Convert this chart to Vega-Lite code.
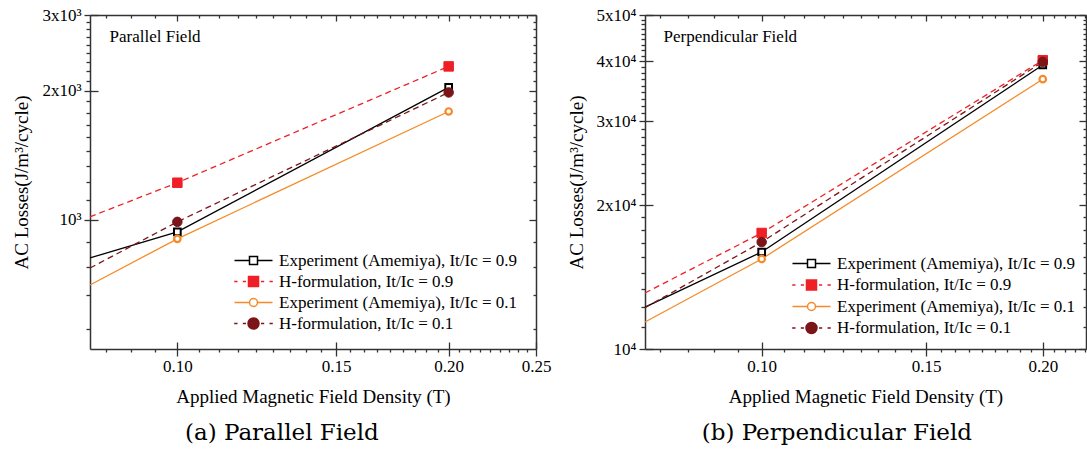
{
  "$schema": "https://vega.github.io/schema/vega-lite/v6.json",
  "background": "white",
  "padding": {"left": 12, "top": 6, "right": 0, "bottom": 0},
  "spacing": 16,
  "resolve": {"scale": {"shape": "independent", "fill": "independent", "stroke": "independent"}, "legend": {"shape": "independent", "fill": "independent", "stroke": "independent"}},
  "config": {
    "view": {"stroke": null},
    "axis": {"grid": false, "labelFont": "Times New Roman", "labelFontSize": 17, "labelColor": "#000", "titleFont": "Times New Roman", "titleFontSize": 19, "titleFontWeight": "normal", "titleColor": "#000", "tickColor": "#333", "domainColor": "#333", "tickWidth": 1.3, "domainWidth": 1.5, "labelOverlap": false, "labelFlush": false}
  },
  "datasets": {
    "pa": [
      {"series": "Experiment (Amemiya), It/Ic = 0.9", "B": 0.08, "loss": 815, "marker": false},
      {"series": "Experiment (Amemiya), It/Ic = 0.9", "B": 0.1, "loss": 937, "marker": true},
      {"series": "Experiment (Amemiya), It/Ic = 0.9", "B": 0.2, "loss": 2034, "marker": true},
      {"series": "H-formulation, It/Ic = 0.9", "B": 0.08, "loss": 1016, "marker": false},
      {"series": "H-formulation, It/Ic = 0.9", "B": 0.1, "loss": 1220, "marker": true},
      {"series": "H-formulation, It/Ic = 0.9", "B": 0.2, "loss": 2277, "marker": true},
      {"series": "Experiment (Amemiya), It/Ic = 0.1", "B": 0.08, "loss": 705, "marker": false},
      {"series": "Experiment (Amemiya), It/Ic = 0.1", "B": 0.1, "loss": 903, "marker": true},
      {"series": "Experiment (Amemiya), It/Ic = 0.1", "B": 0.2, "loss": 1788, "marker": true},
      {"series": "H-formulation, It/Ic = 0.1", "B": 0.08, "loss": 772, "marker": false},
      {"series": "H-formulation, It/Ic = 0.1", "B": 0.1, "loss": 989, "marker": true},
      {"series": "H-formulation, It/Ic = 0.1", "B": 0.2, "loss": 1980, "marker": true}
    ],
    "pb": [
      {"series": "Experiment (Amemiya), It/Ic = 0.9", "B": 0.075, "loss": 12240, "marker": false},
      {"series": "Experiment (Amemiya), It/Ic = 0.9", "B": 0.1, "loss": 15960, "marker": true},
      {"series": "Experiment (Amemiya), It/Ic = 0.9", "B": 0.2, "loss": 39300, "marker": true},
      {"series": "H-formulation, It/Ic = 0.9", "B": 0.075, "loss": 13100, "marker": false},
      {"series": "H-formulation, It/Ic = 0.9", "B": 0.1, "loss": 17490, "marker": true},
      {"series": "H-formulation, It/Ic = 0.9", "B": 0.2, "loss": 40200, "marker": true},
      {"series": "Experiment (Amemiya), It/Ic = 0.1", "B": 0.075, "loss": 11390, "marker": false},
      {"series": "Experiment (Amemiya), It/Ic = 0.1", "B": 0.1, "loss": 15430, "marker": true},
      {"series": "Experiment (Amemiya), It/Ic = 0.1", "B": 0.2, "loss": 36700, "marker": true},
      {"series": "H-formulation, It/Ic = 0.1", "B": 0.075, "loss": 12200, "marker": false},
      {"series": "H-formulation, It/Ic = 0.1", "B": 0.1, "loss": 16740, "marker": true},
      {"series": "H-formulation, It/Ic = 0.1", "B": 0.2, "loss": 39900, "marker": true}
    ]
  },
  "hconcat": [
    {
      "width": 446, "height": 334,
      "data": {"name": "pa"},
      "title": {"text": "(a) Parallel Field", "orient": "bottom", "anchor": "middle", "frame": "bounds", "font": "DejaVu Serif", "fontSize": 23, "fontWeight": "normal", "color": "#000", "offset": 16},
      "resolve": {"axis": {"x": "independent", "y": "independent"}},
      "encoding": {
        "x": {"field": "B", "type": "quantitative", "scale": {"type": "log", "domain": [0.08, 0.25], "nice": false}, "axis": null},
        "y": {"field": "loss", "type": "quantitative", "scale": {"type": "log", "domain": [500, 3000], "nice": false}, "axis": null}
      },
      "layer": [
        {
          "transform": [{"filter": "datum.series == 'Experiment (Amemiya), It/Ic = 0.9'"}],
          "mark": {"type": "line", "color": "#000000", "strokeWidth": 1.3},
          "encoding": {
            "x": {"field": "B", "type": "quantitative", "scale": {"type": "log", "domain": [0.08, 0.25], "nice": false}, "axis": {"orient": "bottom", "values": [0.1, 0.15, 0.2, 0.25], "format": ".2f", "tickSize": 7, "labelPadding": 2, "title": "Applied Magnetic Field Density (T)", "titlePadding": 13, "domain": true}},
            "y": {"field": "loss", "type": "quantitative", "scale": {"type": "log", "domain": [500, 3000], "nice": false}, "axis": {"orient": "left", "values": [1000, 2000, 3000], "labelExpr": "datum.value == 1000 ? '10³' : datum.value == 2000 ? '2x10³' : '3x10³'", "tickSize": 6, "labelPadding": 3, "title": "AC Losses(J/m³/cycle)", "titlePadding": 10, "domain": true}}
          }
        },
        {
          "transform": [{"filter": "datum.series == 'H-formulation, It/Ic = 0.9'"}],
          "mark": {"type": "line", "color": "#ee2026", "strokeWidth": 1.3, "strokeDash": [6, 4]}
        },
        {
          "transform": [{"filter": "datum.series == 'Experiment (Amemiya), It/Ic = 0.1'"}],
          "mark": {"type": "line", "color": "#f58b28", "strokeWidth": 1.3}
        },
        {
          "transform": [{"filter": "datum.series == 'H-formulation, It/Ic = 0.1'"}],
          "mark": {"type": "line", "color": "#7b1518", "strokeWidth": 1.3, "strokeDash": [6, 4]}
        },
        {
          "transform": [{"filter": "datum.marker && datum.series == 'Experiment (Amemiya), It/Ic = 0.9'"}],
          "mark": {"type": "point", "shape": "square", "fill": "#ffffff", "stroke": "#000000", "strokeWidth": 2, "size": 45, "opacity": 1},
          "encoding": {
            "x": {"field": "B", "type": "quantitative", "scale": {"type": "log", "domain": [0.08, 0.25], "nice": false}, "axis": {"orient": "bottom", "values": [0.1, 0.15, 0.2, 0.25], "tickSize": -7, "labels": false, "domain": false, "title": null}},
            "y": {"field": "loss", "type": "quantitative", "scale": {"type": "log", "domain": [500, 3000], "nice": false}, "axis": {"orient": "left", "values": [1000, 2000, 3000], "tickSize": -8, "labels": false, "domain": false, "title": null}}
          }
        },
        {
          "transform": [{"filter": "datum.marker && datum.series == 'H-formulation, It/Ic = 0.9'"}],
          "mark": {"type": "point", "shape": "square", "fill": "#ee2026", "stroke": "#ee2026", "strokeWidth": 1, "size": 90, "opacity": 1}
        },
        {
          "transform": [{"filter": "datum.marker && datum.series == 'Experiment (Amemiya), It/Ic = 0.1'"}],
          "mark": {"type": "point", "shape": "circle", "fill": "#ffffff", "stroke": "#f58b28", "strokeWidth": 2.2, "size": 42, "opacity": 1},
          "encoding": {
            "x": {"field": "B", "type": "quantitative", "scale": {"type": "log", "domain": [0.08, 0.25], "nice": false}, "axis": {"orient": "bottom", "values": [0.08333, 0.08889, 0.09444, 0.10556, 0.11111, 0.11667, 0.12222, 0.12778, 0.13333, 0.13889, 0.14444, 0.15556, 0.16111, 0.16667, 0.17222, 0.17778, 0.18333, 0.18889, 0.19444, 0.20556, 0.21111, 0.21667, 0.22222, 0.22778, 0.23333, 0.23889, 0.24444], "tickSize": 3, "labels": false, "domain": false, "title": null}},
            "y": {"field": "loss", "type": "quantitative", "scale": {"type": "log", "domain": [500, 3000], "nice": false}, "axis": {"orient": "left", "values": [555.6, 666.7, 777.8, 888.9, 1111.1, 1222.2, 1333.3, 1444.4, 1555.6, 1666.7, 1777.8, 1888.9, 2111.1, 2222.2, 2333.3, 2444.4, 2555.6, 2666.7, 2777.8, 2888.9], "tickSize": 4, "labels": false, "domain": false, "title": null}}
          }
        },
        {
          "transform": [{"filter": "datum.marker && datum.series == 'H-formulation, It/Ic = 0.1'"}],
          "mark": {"type": "point", "shape": "circle", "fill": "#7b1518", "stroke": "#7b1518", "strokeWidth": 1, "size": 90, "opacity": 1},
          "encoding": {
            "x": {"field": "B", "type": "quantitative", "scale": {"type": "log", "domain": [0.08, 0.25], "nice": false}, "axis": {"orient": "top", "values": [0.1, 0.15, 0.2, 0.25], "tickSize": -6, "labels": false, "domain": true, "title": "Parallel Field", "titleFont": "Times New Roman", "titleFontSize": 17, "titleFontWeight": "normal", "titleColor": "#000", "titleAlign": "left", "titleBaseline": "middle", "titleAngle": 0, "titleX": 19, "titleY": 21}},
            "y": {"field": "loss", "type": "quantitative", "scale": {"type": "log", "domain": [500, 3000], "nice": false}, "axis": {"orient": "right", "values": [1000, 2000, 3000], "tickSize": -7, "labels": false, "domain": true, "title": null}}
          }
        },
        {
          "transform": [{"filter": "datum.B < 0"}],
          "mark": {"type": "point", "strokeWidth": 1.6, "size": 100},
          "encoding": {
            "x": {"field": "B", "type": "quantitative", "scale": {"type": "log", "domain": [0.08, 0.25], "nice": false}, "axis": {"orient": "top", "values": [0.08333, 0.08889, 0.09444, 0.10556, 0.11111, 0.11667, 0.12222, 0.12778, 0.13333, 0.13889, 0.14444, 0.15556, 0.16111, 0.16667, 0.17222, 0.17778, 0.18333, 0.18889, 0.19444, 0.20556, 0.21111, 0.21667, 0.22222, 0.22778, 0.23333, 0.23889, 0.24444], "tickSize": -3, "labels": false, "domain": false, "title": null}},
            "y": {"field": "loss", "type": "quantitative", "scale": {"type": "log", "domain": [500, 3000], "nice": false}, "axis": {"orient": "right", "values": [555.6, 666.7, 777.8, 888.9, 1111.1, 1222.2, 1333.3, 1444.4, 1555.6, 1666.7, 1777.8, 1888.9, 2111.1, 2222.2, 2333.3, 2444.4, 2555.6, 2666.7, 2777.8, 2888.9], "tickSize": -3, "labels": false, "domain": false, "title": null}},
            "shape": {"field": "series", "type": "nominal", "sort": null,
              "scale": {"domain": ["Experiment (Amemiya), It/Ic = 0.9", "H-formulation, It/Ic = 0.9", "Experiment (Amemiya), It/Ic = 0.1", "H-formulation, It/Ic = 0.1"],
                "range": ["M-3.8,0H-0.85M0.85,0H3.8M-0.8,-0.8H0.8V0.8H-0.8Z", "M-3.86,0H-3.2M-2.14,0H-1.5M1.5,0H2.14M3.2,0H3.86M-1,-1H1V1H-1Z", "M-3.8,0H-0.85M0.85,0H3.8M-0.8,0A0.8,0.8 0 1,0 0.8,0A0.8,0.8 0 1,0 -0.8,0Z", "M-3.86,0H-3.2M-2.14,0H-1.5M1.5,0H2.14M3.2,0H3.86M-1.1,0A1.1,1.1 0 1,0 1.1,0A1.1,1.1 0 1,0 -1.1,0Z"]},
              "legend": {"orient": "none", "legendX": 155, "legendY": 237, "title": null, "symbolSize": 100, "symbolOpacity": 1, "labelOffset": 17, "labelFontSize": 17, "labelFont": "Times New Roman", "labelColor": "#000", "labelLimit": 400, "rowPadding": 3, "padding": 0}},
            "fill": {"field": "series", "type": "nominal", "sort": null,
              "scale": {"domain": ["Experiment (Amemiya), It/Ic = 0.9", "H-formulation, It/Ic = 0.9", "Experiment (Amemiya), It/Ic = 0.1", "H-formulation, It/Ic = 0.1"], "range": ["#ffffff", "#ee2026", "#ffffff", "#7b1518"]}},
            "stroke": {"field": "series", "type": "nominal", "sort": null,
              "scale": {"domain": ["Experiment (Amemiya), It/Ic = 0.9", "H-formulation, It/Ic = 0.9", "Experiment (Amemiya), It/Ic = 0.1", "H-formulation, It/Ic = 0.1"], "range": ["#000000", "#ee2026", "#f58b28", "#7b1518"]}}
          }
        }
      ]
    },
    {
      "width": 441, "height": 334,
      "data": {"name": "pb"},
      "title": {"text": "(b) Perpendicular Field", "orient": "bottom", "anchor": "middle", "frame": "bounds", "font": "DejaVu Serif", "fontSize": 23, "fontWeight": "normal", "color": "#000", "offset": 16, "dx": 10},
      "resolve": {"axis": {"x": "independent", "y": "independent"}},
      "encoding": {
        "x": {"field": "B", "type": "quantitative", "scale": {"type": "log", "domain": [0.075, 0.2225], "nice": false}, "axis": null},
        "y": {"field": "loss", "type": "quantitative", "scale": {"type": "log", "domain": [10000, 50000], "nice": false}, "axis": null}
      },
      "layer": [
        {
          "transform": [{"filter": "datum.series == 'Experiment (Amemiya), It/Ic = 0.9'"}],
          "mark": {"type": "line", "color": "#000000", "strokeWidth": 1.3},
          "encoding": {
            "x": {"field": "B", "type": "quantitative", "scale": {"type": "log", "domain": [0.075, 0.2225], "nice": false}, "axis": {"orient": "bottom", "values": [0.1, 0.15, 0.2], "format": ".2f", "tickSize": 7, "labelPadding": 2, "title": "Applied Magnetic Field Density (T)", "titlePadding": 13, "domain": true}},
            "y": {"field": "loss", "type": "quantitative", "scale": {"type": "log", "domain": [10000, 50000], "nice": false}, "axis": {"orient": "left", "values": [10000, 20000, 30000, 40000, 50000], "labelExpr": "datum.value == 10000 ? '10⁴' : format(datum.value / 10000, 'd') + 'x10⁴'", "tickSize": 6, "labelPadding": 3, "title": "AC Losses(J/m³/cycle)", "titlePadding": 10, "domain": true}}
          }
        },
        {
          "transform": [{"filter": "datum.series == 'H-formulation, It/Ic = 0.9'"}],
          "mark": {"type": "line", "color": "#ee2026", "strokeWidth": 1.3, "strokeDash": [6, 4]}
        },
        {
          "transform": [{"filter": "datum.series == 'Experiment (Amemiya), It/Ic = 0.1'"}],
          "mark": {"type": "line", "color": "#f58b28", "strokeWidth": 1.3}
        },
        {
          "transform": [{"filter": "datum.series == 'H-formulation, It/Ic = 0.1'"}],
          "mark": {"type": "line", "color": "#7b1518", "strokeWidth": 1.3, "strokeDash": [6, 4]}
        },
        {
          "transform": [{"filter": "datum.marker && datum.series == 'Experiment (Amemiya), It/Ic = 0.9'"}],
          "mark": {"type": "point", "shape": "square", "fill": "#ffffff", "stroke": "#000000", "strokeWidth": 2, "size": 45, "opacity": 1},
          "encoding": {
            "x": {"field": "B", "type": "quantitative", "scale": {"type": "log", "domain": [0.075, 0.2225], "nice": false}, "axis": {"orient": "bottom", "values": [0.1, 0.15, 0.2], "tickSize": -7, "labels": false, "domain": false, "title": null}},
            "y": {"field": "loss", "type": "quantitative", "scale": {"type": "log", "domain": [10000, 50000], "nice": false}, "axis": {"orient": "left", "values": [10000, 20000, 30000, 40000, 50000], "tickSize": -8, "labels": false, "domain": false, "title": null}}
          }
        },
        {
          "transform": [{"filter": "datum.marker && datum.series == 'H-formulation, It/Ic = 0.9'"}],
          "mark": {"type": "point", "shape": "square", "fill": "#ee2026", "stroke": "#ee2026", "strokeWidth": 1, "size": 90, "opacity": 1}
        },
        {
          "transform": [{"filter": "datum.marker && datum.series == 'Experiment (Amemiya), It/Ic = 0.1'"}],
          "mark": {"type": "point", "shape": "circle", "fill": "#ffffff", "stroke": "#f58b28", "strokeWidth": 2.2, "size": 42, "opacity": 1},
          "encoding": {
            "x": {"field": "B", "type": "quantitative", "scale": {"type": "log", "domain": [0.075, 0.2225], "nice": false}, "axis": {"orient": "bottom", "values": [0.07778, 0.08333, 0.08889, 0.09444, 0.10556, 0.11111, 0.11667, 0.12222, 0.12778, 0.13333, 0.13889, 0.14444, 0.15556, 0.16111, 0.16667, 0.17222, 0.17778, 0.18333, 0.18889, 0.19444, 0.20556, 0.21111, 0.21667, 0.22222], "tickSize": 3, "labels": false, "domain": false, "title": null}},
            "y": {"field": "loss", "type": "quantitative", "scale": {"type": "log", "domain": [10000, 50000], "nice": false}, "axis": {"orient": "left", "values": [11111, 12222, 13333, 14444, 15556, 16667, 17778, 18889, 21111, 22222, 23333, 24444, 25556, 26667, 27778, 28889, 31111, 32222, 33333, 34444, 35556, 36667, 37778, 38889, 41111, 42222, 43333, 44444, 45556, 46667, 47778, 48889], "tickSize": 4, "labels": false, "domain": false, "title": null}}
          }
        },
        {
          "transform": [{"filter": "datum.marker && datum.series == 'H-formulation, It/Ic = 0.1'"}],
          "mark": {"type": "point", "shape": "circle", "fill": "#7b1518", "stroke": "#7b1518", "strokeWidth": 1, "size": 90, "opacity": 1},
          "encoding": {
            "x": {"field": "B", "type": "quantitative", "scale": {"type": "log", "domain": [0.075, 0.2225], "nice": false}, "axis": {"orient": "top", "values": [0.1, 0.15, 0.2], "tickSize": -6, "labels": false, "domain": true, "title": "Perpendicular Field", "titleFont": "Times New Roman", "titleFontSize": 17, "titleFontWeight": "normal", "titleColor": "#000", "titleAlign": "left", "titleBaseline": "middle", "titleAngle": 0, "titleX": 18, "titleY": 21}},
            "y": {"field": "loss", "type": "quantitative", "scale": {"type": "log", "domain": [10000, 50000], "nice": false}, "axis": {"orient": "right", "values": [10000, 20000, 30000, 40000, 50000], "tickSize": -7, "labels": false, "domain": true, "title": null}}
          }
        },
        {
          "transform": [{"filter": "datum.B < 0"}],
          "mark": {"type": "point", "strokeWidth": 1.6, "size": 100},
          "encoding": {
            "x": {"field": "B", "type": "quantitative", "scale": {"type": "log", "domain": [0.075, 0.2225], "nice": false}, "axis": {"orient": "top", "values": [0.07778, 0.08333, 0.08889, 0.09444, 0.10556, 0.11111, 0.11667, 0.12222, 0.12778, 0.13333, 0.13889, 0.14444, 0.15556, 0.16111, 0.16667, 0.17222, 0.17778, 0.18333, 0.18889, 0.19444, 0.20556, 0.21111, 0.21667, 0.22222], "tickSize": -3, "labels": false, "domain": false, "title": null}},
            "y": {"field": "loss", "type": "quantitative", "scale": {"type": "log", "domain": [10000, 50000], "nice": false}, "axis": {"orient": "right", "values": [11111, 12222, 13333, 14444, 15556, 16667, 17778, 18889, 21111, 22222, 23333, 24444, 25556, 26667, 27778, 28889, 31111, 32222, 33333, 34444, 35556, 36667, 37778, 38889, 41111, 42222, 43333, 44444, 45556, 46667, 47778, 48889], "tickSize": -3, "labels": false, "domain": false, "title": null}},
            "shape": {"field": "series", "type": "nominal", "sort": null,
              "scale": {"domain": ["Experiment (Amemiya), It/Ic = 0.9", "H-formulation, It/Ic = 0.9", "Experiment (Amemiya), It/Ic = 0.1", "H-formulation, It/Ic = 0.1"],
                "range": ["M-3.8,0H-0.85M0.85,0H3.8M-0.8,-0.8H0.8V0.8H-0.8Z", "M-3.86,0H-3.2M-2.14,0H-1.5M1.5,0H2.14M3.2,0H3.86M-1,-1H1V1H-1Z", "M-3.8,0H-0.85M0.85,0H3.8M-0.8,0A0.8,0.8 0 1,0 0.8,0A0.8,0.8 0 1,0 -0.8,0Z", "M-3.86,0H-3.2M-2.14,0H-1.5M1.5,0H2.14M3.2,0H3.86M-1.1,0A1.1,1.1 0 1,0 1.1,0A1.1,1.1 0 1,0 -1.1,0Z"]},
              "legend": {"orient": "none", "legendX": 158, "legendY": 240, "title": null, "symbolSize": 100, "symbolOpacity": 1, "labelOffset": 17, "labelFontSize": 17, "labelFont": "Times New Roman", "labelColor": "#000", "labelLimit": 400, "rowPadding": 3.5, "padding": 0}},
            "fill": {"field": "series", "type": "nominal", "sort": null,
              "scale": {"domain": ["Experiment (Amemiya), It/Ic = 0.9", "H-formulation, It/Ic = 0.9", "Experiment (Amemiya), It/Ic = 0.1", "H-formulation, It/Ic = 0.1"], "range": ["#ffffff", "#ee2026", "#ffffff", "#7b1518"]}},
            "stroke": {"field": "series", "type": "nominal", "sort": null,
              "scale": {"domain": ["Experiment (Amemiya), It/Ic = 0.9", "H-formulation, It/Ic = 0.9", "Experiment (Amemiya), It/Ic = 0.1", "H-formulation, It/Ic = 0.1"], "range": ["#000000", "#ee2026", "#f58b28", "#7b1518"]}}
          }
        }
      ]
    }
  ]
}
